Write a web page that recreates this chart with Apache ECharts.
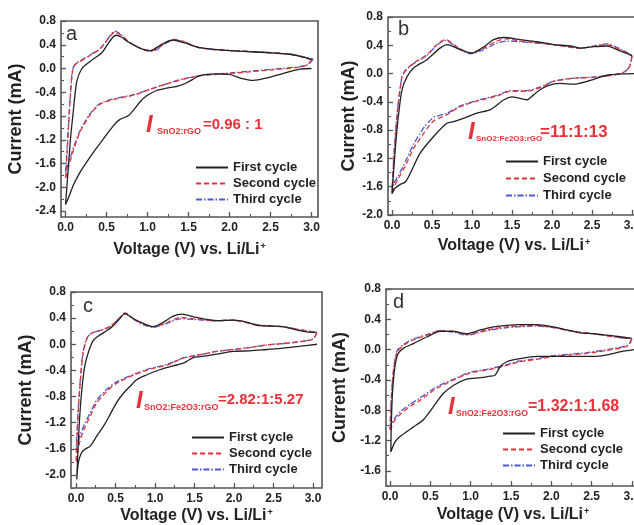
<!DOCTYPE html>
<html><head><meta charset="utf-8">
<script src="https://cdn.jsdelivr.net/npm/echarts@6/dist/echarts.min.js"></script>
<style>html,body{margin:0;padding:0;background:#fff}#c{width:634px;height:525px}</style>
</head><body><div id="c"></div>
<script>
// ---------- tick labels ----------
const xTicks = [0, 0.5, 1.0, 1.5, 2.0, 2.5, 3.0];
const xMinor = [0.25, 0.75, 1.25, 1.75, 2.25, 2.75];
const yTicksA = [-2.4, -2.0, -1.6, -1.2, -0.8, -0.4, 0.0, 0.4, 0.8];
const yTicksB = [-2.0, -1.6, -1.2, -0.8, -0.4, 0.0, 0.4, 0.8];
const yTicksC = [-2.0, -1.6, -1.2, -0.8, -0.4, 0.0, 0.4, 0.8];
const yTicksD = [-1.6, -1.2, -0.8, -0.4, 0.0, 0.4, 0.8];
const yMinorA = [-2.2, -1.8, -1.4, -1.0, -0.6, -0.2, 0.2, 0.6];
const yMinorB = [-1.8, -1.4, -1.0, -0.6, -0.2, 0.2, 0.6];
const yMinorC = [-2.2, -1.8, -1.4, -1.0, -0.6, -0.2, 0.2, 0.6];
const yMinorD = [-1.8, -1.4, -1.0, -0.6, -0.2, 0.2, 0.6];
const cycleNames = ['First cycle', 'Second cycle', 'Third cycle'];
const panelLetters = ['a', 'b', 'c', 'd'];
const ratioSubs = ['SnO2:rGO', 'SnO2:Fe2O3:rGO', 'SnO2:Fe2O3:rGO', 'SnO2:Fe2O3:rGO'];
const ratioVals = ['=0.96 : 1', '=11:1:13', '=2.82:1:5.27', '=1.32:1:1.68'];

// ---------- data: [voltage V, current mA] ----------
const aFirst = [[3.0,0.0],[2.86,-0.01],[2.66,-0.08],[2.45,-0.16],[2.29,-0.20],[2.13,-0.16],[2.0,-0.10],[1.84,-0.09],[1.64,-0.12],[1.48,-0.24],[1.36,-0.30],[1.23,-0.33],[1.11,-0.37],[0.99,-0.46],[0.91,-0.56],[0.83,-0.70],[0.77,-0.79],[0.66,-0.86],[0.58,-0.97],[0.46,-1.19],[0.34,-1.41],[0.26,-1.57],[0.18,-1.74],[0.10,-1.95],[0.035,-2.18],[0.0,-2.29],
  [0.03,-1.75],[0.06,-1.2],[0.095,-0.72],[0.137,-0.22],[0.2,0.0],[0.30,0.12],[0.44,0.26],[0.52,0.42],[0.58,0.53],[0.62,0.56],[0.68,0.53],[0.76,0.45],[0.91,0.34],[1.03,0.30],[1.19,0.42],[1.31,0.48],[1.45,0.43],[1.64,0.35],[2.0,0.30],[2.45,0.27],[2.74,0.24],[2.9,0.19],[3.0,0.15]];
const aSecond = [[3.0,0.15],[2.95,0.06],[2.85,0.02],[2.45,-0.03],[2.05,-0.08],[1.64,-0.12],[1.44,-0.18],[1.23,-0.26],[1.03,-0.35],[0.83,-0.45],[0.62,-0.51],[0.42,-0.60],[0.30,-0.78],[0.18,-1.06],[0.10,-1.36],[0.04,-1.64],[0.0,-1.86],
  [0.02,-1.4],[0.04,-0.9],[0.06,-0.45],[0.085,-0.05],[0.12,0.07],[0.18,0.12],[0.30,0.22],[0.42,0.33],[0.52,0.50],[0.60,0.61],[0.68,0.56],[0.76,0.46],[0.9,0.35],[1.03,0.30],[1.12,0.33],[1.2,0.42],[1.33,0.49],[1.45,0.45],[1.6,0.36],[1.8,0.32],[2.05,0.30],[2.45,0.27],[2.74,0.24],[2.9,0.19],[3.0,0.15]];
const aThird = [[3.02,0.16],[2.96,0.07],[2.85,0.03],[2.45,-0.02],[2.05,-0.07],[1.64,-0.12],[1.44,-0.17],[1.23,-0.26],[1.03,-0.35],[0.83,-0.44],[0.62,-0.50],[0.42,-0.59],[0.30,-0.76],[0.18,-1.04],[0.10,-1.32],[0.04,-1.58],[0.0,-1.75],
  [0.02,-1.35],[0.04,-0.86],[0.06,-0.42],[0.085,-0.03],[0.12,0.08],[0.18,0.13],[0.30,0.23],[0.42,0.33],[0.52,0.51],[0.60,0.63],[0.68,0.57],[0.76,0.46],[0.9,0.35],[1.03,0.29],[1.12,0.32],[1.2,0.41],[1.34,0.48],[1.45,0.45],[1.6,0.36],[1.8,0.32],[2.05,0.30],[2.45,0.27],[2.74,0.24],[2.9,0.20],[3.02,0.16]];

const bFirst = [[3.1,0.0],[2.7,-0.02],[2.44,-0.11],[2.27,-0.15],[2.1,-0.14],[1.95,-0.17],[1.85,-0.23],[1.74,-0.33],[1.69,-0.37],[1.60,-0.35],[1.50,-0.33],[1.40,-0.37],[1.23,-0.51],[1.06,-0.56],[0.90,-0.63],[0.77,-0.68],[0.69,-0.70],[0.52,-0.89],[0.35,-1.13],[0.25,-1.36],[0.17,-1.53],[0.10,-1.57],[0.04,-1.62],[0.0,-1.70],
  [0.04,-1.08],[0.08,-0.60],[0.125,-0.23],[0.19,-0.04],[0.27,0.08],[0.44,0.20],[0.60,0.36],[0.69,0.41],[0.85,0.34],[1.0,0.29],[1.15,0.38],[1.27,0.48],[1.40,0.51],[1.60,0.48],[1.81,0.45],[2.02,0.41],[2.23,0.39],[2.35,0.36],[2.52,0.38],[2.69,0.39],[2.81,0.34],[2.94,0.28],[3.0,0.25]];
const bSecond = [[3.0,0.25],[2.97,0.10],[2.9,0.02],[2.77,-0.02],[2.52,-0.05],[2.23,-0.07],[2.02,-0.11],[1.85,-0.20],[1.69,-0.25],[1.48,-0.25],[1.31,-0.32],[1.06,-0.39],[0.85,-0.47],[0.69,-0.58],[0.52,-0.67],[0.40,-0.84],[0.27,-1.06],[0.17,-1.30],[0.08,-1.48],[0.02,-1.62],[0.0,-1.70],
  [0.03,-1.08],[0.07,-0.51],[0.125,-0.04],[0.17,0.05],[0.27,0.15],[0.44,0.27],[0.56,0.41],[0.67,0.48],[0.81,0.38],[0.98,0.29],[1.15,0.36],[1.31,0.46],[1.44,0.49],[1.6,0.46],[2.02,0.41],[2.35,0.36],[2.69,0.41],[2.85,0.34],[2.98,0.27],[3.0,0.25]];
const bThird = [[3.0,0.25],[2.97,0.10],[2.9,0.02],[2.77,-0.02],[2.52,-0.05],[2.23,-0.07],[2.02,-0.11],[1.85,-0.19],[1.69,-0.24],[1.48,-0.24],[1.31,-0.31],[1.06,-0.38],[0.85,-0.46],[0.69,-0.56],[0.52,-0.62],[0.40,-0.76],[0.27,-1.00],[0.17,-1.24],[0.08,-1.44],[0.02,-1.56],[0.0,-1.62],
  [0.03,-1.05],[0.07,-0.50],[0.125,-0.05],[0.17,0.04],[0.27,0.14],[0.44,0.26],[0.56,0.40],[0.67,0.47],[0.81,0.37],[0.98,0.28],[1.15,0.34],[1.31,0.43],[1.44,0.46],[1.6,0.45],[2.02,0.41],[2.35,0.36],[2.69,0.42],[2.85,0.35],[2.98,0.27],[3.0,0.25]];

const cFirst = [[3.05,0.0],[2.84,-0.03],[2.62,-0.06],[2.41,-0.08],[2.20,-0.10],[1.99,-0.11],[1.78,-0.15],[1.57,-0.19],[1.49,-0.20],[1.36,-0.29],[1.23,-0.33],[1.06,-0.39],[0.89,-0.47],[0.77,-0.54],[0.68,-0.65],[0.60,-0.75],[0.51,-0.90],[0.43,-1.08],[0.35,-1.25],[0.26,-1.41],[0.18,-1.56],[0.11,-1.61],[0.07,-1.66],[0.03,-1.81],[0.01,-2.07],
  [0.02,-1.76],[0.04,-1.25],[0.07,-0.75],[0.11,-0.34],[0.16,-0.11],[0.22,0.06],[0.30,0.14],[0.43,0.24],[0.54,0.37],[0.62,0.47],[0.73,0.39],[0.85,0.32],[0.98,0.27],[1.11,0.34],[1.23,0.43],[1.34,0.46],[1.49,0.42],[1.65,0.38],[1.82,0.36],[1.99,0.37],[2.16,0.34],[2.29,0.29],[2.46,0.28],[2.62,0.27],[2.79,0.22],[2.92,0.19],[3.03,0.18]];
const cSecond = [[3.05,0.18],[3.0,0.08],[2.84,0.04],[2.62,0.01],[2.41,-0.01],[2.20,-0.05],[1.99,-0.08],[1.78,-0.11],[1.57,-0.16],[1.36,-0.21],[1.15,-0.32],[0.94,-0.38],[0.73,-0.47],[0.51,-0.60],[0.39,-0.72],[0.26,-0.90],[0.18,-1.10],[0.11,-1.28],[0.05,-1.48],[0.02,-1.66],[0.0,-1.81],
  [0.015,-1.4],[0.03,-1.0],[0.06,-0.49],[0.09,-0.14],[0.14,0.09],[0.20,0.17],[0.30,0.21],[0.43,0.27],[0.54,0.39],[0.62,0.48],[0.73,0.39],[0.85,0.31],[0.98,0.27],[1.15,0.33],[1.32,0.41],[1.49,0.39],[1.74,0.36],[1.99,0.37],[2.20,0.32],[2.41,0.28],[2.62,0.27],[2.84,0.22],[3.0,0.19],[3.05,0.18]];
const cThird = [[3.05,0.18],[3.0,0.08],[2.84,0.04],[2.62,0.01],[2.41,-0.01],[2.20,-0.05],[1.99,-0.08],[1.78,-0.11],[1.57,-0.16],[1.36,-0.21],[1.15,-0.31],[0.94,-0.37],[0.73,-0.46],[0.51,-0.58],[0.39,-0.69],[0.26,-0.86],[0.18,-1.05],[0.11,-1.22],[0.05,-1.40],[0.02,-1.55],[0.0,-1.62],
  [0.015,-1.3],[0.03,-0.95],[0.06,-0.47],[0.09,-0.12],[0.14,0.10],[0.20,0.17],[0.30,0.21],[0.43,0.27],[0.54,0.39],[0.62,0.47],[0.73,0.38],[0.85,0.30],[0.98,0.26],[1.15,0.32],[1.32,0.39],[1.49,0.38],[1.74,0.36],[1.99,0.37],[2.20,0.32],[2.41,0.28],[2.62,0.27],[2.84,0.22],[3.0,0.19],[3.05,0.18]];

const dFirst = [[3.03,0.0],[2.85,-0.03],[2.69,-0.07],[2.52,-0.09],[2.2,-0.09],[1.82,-0.09],[1.61,-0.12],[1.45,-0.16],[1.37,-0.22],[1.30,-0.34],[1.24,-0.35],[1.12,-0.37],[0.95,-0.39],[0.79,-0.47],[0.66,-0.58],[0.54,-0.75],[0.41,-0.93],[0.29,-1.02],[0.21,-1.08],[0.12,-1.15],[0.06,-1.22],[0.01,-1.35],
  [0.015,-1.02],[0.03,-0.58],[0.06,-0.23],[0.10,-0.05],[0.17,0.02],[0.29,0.08],[0.46,0.17],[0.62,0.24],[0.79,0.24],[0.95,0.21],[1.12,0.26],[1.28,0.30],[1.45,0.32],[1.61,0.33],[1.82,0.33],[2.03,0.30],[2.19,0.26],[2.36,0.22],[2.52,0.21],[2.69,0.19],[2.85,0.17],[2.98,0.15]];
const dSecond = [[3.0,0.14],[2.95,0.05],[2.69,-0.01],[2.44,-0.05],[2.23,-0.07],[2.03,-0.09],[1.82,-0.13],[1.61,-0.16],[1.41,-0.22],[1.20,-0.27],[0.99,-0.31],[0.79,-0.40],[0.58,-0.51],[0.37,-0.67],[0.25,-0.75],[0.14,-0.84],[0.06,-0.93],[0.02,-1.02],[0.0,-1.08],
  [0.02,-0.58],[0.05,-0.23],[0.09,-0.03],[0.17,0.06],[0.29,0.13],[0.46,0.19],[0.62,0.25],[0.79,0.24],[0.95,0.20],[1.20,0.26],[1.45,0.30],[1.82,0.32],[2.03,0.29],[2.28,0.24],[2.52,0.21],[2.77,0.17],[2.94,0.15],[3.0,0.14]];
const dThird = [[3.0,0.15],[2.95,0.06],[2.69,0.0],[2.44,-0.04],[2.23,-0.06],[2.03,-0.08],[1.82,-0.12],[1.61,-0.15],[1.41,-0.21],[1.20,-0.26],[0.99,-0.30],[0.79,-0.39],[0.58,-0.49],[0.37,-0.64],[0.25,-0.72],[0.14,-0.81],[0.06,-0.90],[0.02,-0.98],[0.0,-1.04],
  [0.02,-0.55],[0.05,-0.20],[0.09,-0.01],[0.17,0.07],[0.29,0.14],[0.46,0.20],[0.62,0.25],[0.79,0.23],[0.95,0.19],[1.20,0.25],[1.45,0.29],[1.82,0.31],[2.03,0.29],[2.28,0.24],[2.52,0.21],[2.77,0.17],[2.94,0.15],[3.0,0.15]];

// ---------- layout ----------
const grids = [
  {left: 61, top: 21, width: 257, height: 196},
  {left: 388, top: 17, width: 252, height: 198},
  {left: 71, top: 292, width: 251, height: 196},
  {left: 386, top: 289, width: 254, height: 197}
];
const xRanges = [[-0.055, 3.079], [-0.05, 3.1], [-0.063, 3.114], [-0.05, 3.1]];
const yRanges = [[-2.5, 0.8], [-2.0, 0.8], [-2.2, 0.8], [-1.8, 0.8]];
const yTicks = [yTicksA, yTicksB, yTicksC, yTicksD];
const yMinors = [yMinorA, yMinorB, yMinorC, yMinorD];
const yNameGaps = [36, 25, 36, 37];
const xNameGaps = [25, 23, 20, 21];
const panelData = [[aFirst, aSecond, aThird], [bFirst, bSecond, bThird], [cFirst, cSecond, cThird], [dFirst, dSecond, dThird]];
const legendPos = [{left: 195, top: 161}, {left: 505, top: 155}, {left: 191, top: 431}, {left: 502, top: 427}];
const letterPos = [[66, 36], [398, 31], [83, 308], [393, 304]];
const annot = [
  {ix: 146, iy: 125, sx: 157, sy: 132, mx: 203, my: 125, sf: 9, mf: 15},
  {ix: 468, iy: 132, sx: 476, sy: 139, mx: 540, my: 132, sf: 8, mf: 17},
  {ix: 136, iy: 401, sx: 144, sy: 408, mx: 218, my: 400, sf: 9, mf: 15},
  {ix: 448, iy: 407, sx: 456, sy: 414, mx: 528, my: 407, sf: 8.7, mf: 16}
];

const FONT = 'Liberation Sans, Arial, sans-serif';
const AX = '#555';
const TXT = '#222';
const colors = ['#222222', '#e8323a', '#4a5ad0'];
const lineTypes = ['solid', [5, 3], [6, 2, 1.5, 2]];

const xAxis = [], yAxis = [], series = [], legend = [], graphic = [];
grids.forEach((g, i) => {
  xAxis.push({
    type: 'value', gridIndex: i, position: 'bottom', min: xRanges[i][0], max: xRanges[i][1],
    axisLine: {show: false, onZero: false}, splitLine: {show: false},
    axisTick: {show: true, inside: true, length: 5, customValues: xTicks, lineStyle: {color: AX, width: 1.3}},
    axisLabel: {customValues: xTicks, formatter: v => v.toFixed(1), margin: 5, color: TXT, fontSize: 12, fontWeight: 'bold', fontFamily: FONT},
    name: 'Voltage (V) vs. Li/Li{sup|+}', nameLocation: 'middle', nameGap: xNameGaps[i],
    nameTextStyle: {color: TXT, fontSize: 16, fontWeight: 'bold', fontFamily: FONT,
      rich: {sup: {fontSize: 9, fontWeight: 'bold', fontFamily: FONT, color: TXT, verticalAlign: 'top', lineHeight: 9, padding: [0, 0, 16, 1]}}}
  });
  yAxis.push({
    type: 'value', gridIndex: i, position: 'left', min: yRanges[i][0], max: yRanges[i][1],
    axisLine: {show: false, onZero: false}, splitLine: {show: false},
    axisTick: {show: true, inside: true, length: 5, customValues: yTicks[i], lineStyle: {color: AX, width: 1.3}},
    axisLabel: {customValues: yTicks[i], formatter: v => v.toFixed(1), margin: 5, color: TXT, fontSize: 12, fontWeight: 'bold', fontFamily: FONT},
    name: 'Current (mA)', nameLocation: 'middle', nameGap: yNameGaps[i],
    nameTextStyle: {color: TXT, fontSize: 18, fontWeight: 'bold', fontFamily: FONT}
  });
});
// minor tick axes
grids.forEach((g, i) => {
  xAxis.push({
    type: 'value', gridIndex: i, position: 'bottom', min: xRanges[i][0], max: xRanges[i][1],
    axisLine: {show: false, onZero: false}, splitLine: {show: false}, axisLabel: {show: false},
    axisTick: {show: true, inside: true, length: 3, customValues: xMinor, lineStyle: {color: AX, width: 1.1}}
  });
  yAxis.push({
    type: 'value', gridIndex: i, position: 'left', min: yRanges[i][0], max: yRanges[i][1],
    axisLine: {show: false, onZero: false}, splitLine: {show: false}, axisLabel: {show: false},
    axisTick: {show: true, inside: true, length: 3, customValues: yMinors[i], lineStyle: {color: AX, width: 1.1}}
  });
});
panelData.forEach((sets, i) => {
  sets.forEach((d, k) => {
    series.push({
      type: 'line', name: cycleNames[k], xAxisIndex: i, yAxisIndex: i, data: d,
      symbol: 'none', showSymbol: false, smooth: 0.25, z: 5 - k,
      color: colors[k],
      lineStyle: {color: colors[k], width: 1.3, type: lineTypes[k]},
      emphasis: {disabled: true}, animation: false
    });
  });
  legend.push({
    data: cycleNames, orient: 'vertical', left: legendPos[i].left, top: legendPos[i].top,
    itemWidth: 32, itemHeight: 14, itemGap: i === 1 ? 4 : 3, padding: 0,
    selectedMode: false,
    itemStyle: {color: 'rgba(0,0,0,0)', borderColor: 'rgba(0,0,0,0)', borderWidth: 0, opacity: 0},
    textStyle: {color: TXT, fontSize: 13, fontWeight: 'bold', fontFamily: FONT}
  });
  graphic.push({type: 'text', left: letterPos[i][0], top: letterPos[i][1] - 12, silent: true,
    style: {text: panelLetters[i], font: '20px ' + FONT, fill: '#333'}});
  const a = annot[i];
  graphic.push({type: 'text', x: a.ix, y: a.iy, silent: true,
    style: {text: 'I', font: 'italic bold 24px ' + FONT, fill: '#e8323a', textAlign: 'left', textVerticalAlign: 'middle'}});
  graphic.push({type: 'text', x: a.sx, y: a.sy, silent: true,
    style: {text: ratioSubs[i], font: 'bold ' + a.sf + 'px ' + FONT, fill: '#e8323a', textAlign: 'left', textVerticalAlign: 'middle'}});
  graphic.push({type: 'text', x: a.mx, y: a.my, silent: true,
    style: {text: ratioVals[i], font: 'bold ' + a.mf + 'px ' + FONT, fill: '#e8323a', textAlign: 'left', textVerticalAlign: 'middle'}});
});

const chart = echarts.init(document.getElementById('c'), null, {renderer: 'canvas'});
chart.setOption({
  animation: false,
  backgroundColor: '#fff',
  grid: grids.map(g => Object.assign({show: true, borderColor: AX, borderWidth: 1.6, backgroundColor: 'transparent', containLabel: false, outerBoundsMode: 'none'}, g)),
  xAxis, yAxis, series, legend, graphic
});
</script></body></html>
